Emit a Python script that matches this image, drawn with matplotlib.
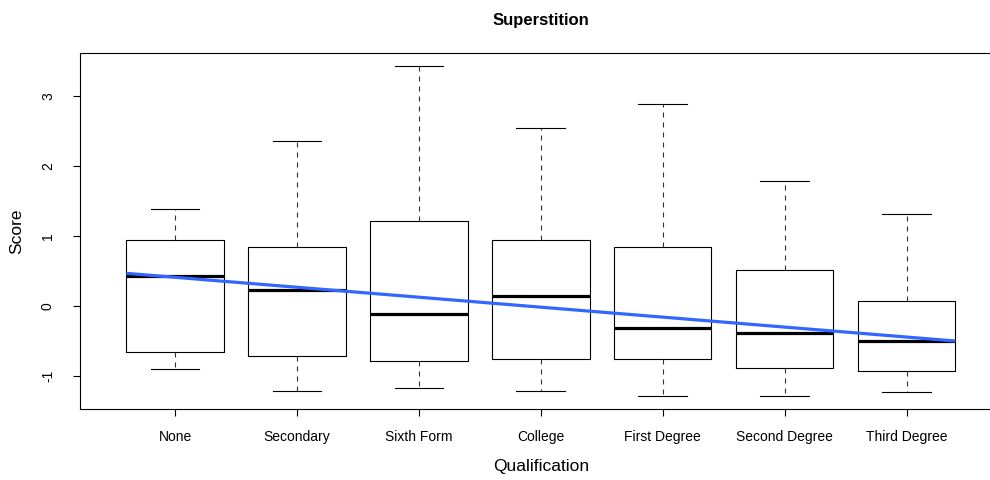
import matplotlib
matplotlib.use("Agg")
import matplotlib.pyplot as plt

plt.rcParams['font.family'] = ['Liberation Sans', 'DejaVu Sans']

categories = ["None", "Secondary", "Sixth Form", "College",
              "First Degree", "Second Degree", "Third Degree"]
whisker_low = [-0.90, -1.21, -1.17, -1.21, -1.29, -1.28, -1.23]
q1 = [-0.65, -0.71, -0.78, -0.76, -0.76, -0.89, -0.93]
median = [0.43, 0.23, -0.12, 0.14, -0.31, -0.38, -0.50]
q3 = [0.94, 0.85, 1.22, 0.94, 0.85, 0.51, 0.07]
whisker_high = [1.39, 2.36, 3.43, 2.54, 2.88, 1.78, 1.32]
y_ticks = [-1, 0, 1, 2, 3]

# fitted trend across qualification levels (endpoints in category units)
trend_x = [0.6, 7.4]
trend_y = [0.467, -0.50]

fig = plt.figure(figsize=(9.9, 4.8), dpi=100)
ax = fig.add_axes([80 / 990, 71 / 480, 921.6 / 990, 356 / 480])

stats = []
for i, name in enumerate(categories):
    stats.append(dict(label=name, whislo=whisker_low[i], q1=q1[i],
                      med=median[i], q3=q3[i], whishi=whisker_high[i],
                      fliers=[]))

positions = list(range(1, len(categories) + 1))
ax.bxp(stats, positions=positions, widths=0.8, showfliers=False,
       boxprops=dict(color='black', linewidth=0.8),
       medianprops=dict(color='black', linewidth=2.3, solid_capstyle='butt'),
       whiskerprops=dict(color='#333333', linewidth=0.8,
                         linestyle=(0, (4.5, 4.5))),
       capprops=dict(color='black', linewidth=0.8),
       capwidths=0.4)

ax.plot(trend_x, trend_y, color='#3366FF', linewidth=2.3,
        solid_capstyle='butt', zorder=5)

ax.set_xlim(0.22, 7.78)
ax.set_ylim(-1.471, 3.614)

ax.set_yticks(y_ticks)
ax.set_yticklabels([str(t) for t in y_ticks], rotation=90, va='center')
ax.set_xticks(positions)
ax.set_xticklabels(categories)
ax.tick_params(axis='both', direction='out', length=5, width=0.8,
               labelsize=10, colors='black')
ax.tick_params(axis='y', pad=13)
ax.tick_params(axis='x', pad=10)

for sp in ax.spines.values():
    sp.set_linewidth(0.8)
    sp.set_color('black')

ax.set_ylabel("Score", fontsize=12.5, labelpad=12)
ax.set_xlabel("Qualification", fontsize=12.5, labelpad=11)
fig.text(541 / 990, 1 - 21 / 480, "Superstition", ha='center', va='center',
         fontsize=12, fontweight='bold')

fig.savefig("out.png", dpi=100)
